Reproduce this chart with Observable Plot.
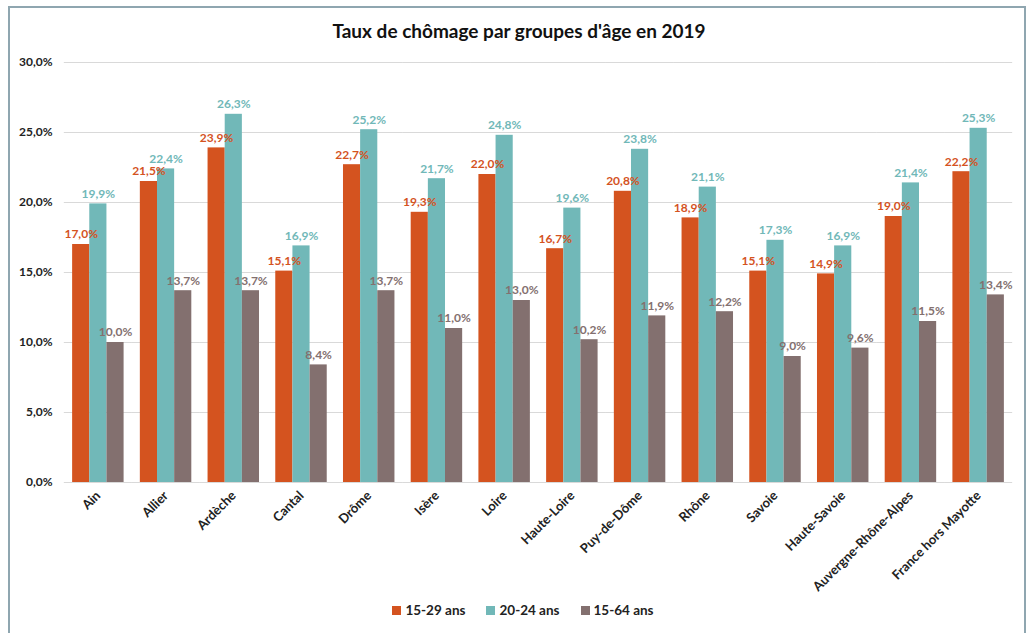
<!DOCTYPE html>
<html>
<head>
<meta charset="utf-8">
<script src="https://cdn.jsdelivr.net/npm/d3@7"></script>
<script src="https://cdn.jsdelivr.net/npm/@observablehq/plot@0.6"></script>
<style>
  html, body { margin: 0; padding: 0; background: #fff; }
  body { width: 1030px; height: 633px; position: relative; overflow: hidden; font-family: Lato, "Open Sans", sans-serif; }
  #frame { position: absolute; left: 8px; top: 6px; width: 1014px; height: 700px; border: 2px solid #8fa6b0; box-sizing: content-box; }
  #title { position: absolute; top: 19px; left: 8px; width: 1022px; text-align: center; font-size: 19px; font-weight: 700; color: #111; }
  #chart { position: absolute; left: 0; top: 50px; }
  #legend { position: absolute; top: 602px; left: 8px; width: 1030px; display: flex; justify-content: center; gap: 21px; font-size: 13.5px; font-weight: 700; color: #222; }
  #legend span.item { display: flex; align-items: center; gap: 4px; }
  #legend span.sw { width: 9px; height: 9px; display: inline-block; }
  #chart g[aria-label="y-axis tick label"], #chart g[aria-label="fx-axis tick label"] { font-weight: 700; }
  #chart g[aria-label="fx-axis tick label"] { font-size: 13px; }
  #chart g[aria-label="y-axis tick label"] { font-size: 12px; }
</style>
</head>
<body>
<div id="frame"></div>
<div id="title">Taux de chômage par groupes d'âge en 2019</div>
<div id="chart"></div>
<div id="legend"></div>
<script>
const categories = ["Ain","Allier","Ardèche","Cantal","Drôme","Isère","Loire","Haute-Loire","Puy-de-Dôme","Rhône","Savoie","Haute-Savoie","Auvergne-Rhône-Alpes","France hors Mayotte"];
const seriesNames = ["15-29 ans","20-24 ans","15-64 ans"];
const s15_29 = [17.0,21.5,23.9,15.1,22.7,19.3,22.0,16.7,20.8,18.9,15.1,14.9,19.0,22.2];
const s20_24 = [19.9,22.4,26.3,16.9,25.2,21.7,24.8,19.6,23.8,21.1,17.3,16.9,21.4,25.3];
const s15_64 = [10.0,13.7,13.7,8.4,13.7,11.0,13.0,10.2,11.9,12.2,9.0,9.6,11.5,13.4];
const yTicks = [0,5,10,15,20,25,30];
const colors = ["#D4531F","#71B8B8","#83706F"];

const seriesValues = [s15_29, s20_24, s15_64];
const data = categories.flatMap((c, i) => seriesNames.map((s, j) => ({cat: c, series: s, value: seriesValues[j][i]})));
const fmt = v => v.toFixed(1).replace(".", ",") + "%";

const chart = Plot.plot({
  width: 1030,
  height: 545,
  marginTop: 12,
  marginBottom: 113,
  marginLeft: 64,
  marginRight: 18,
  style: {fontFamily: "Lato, 'Open Sans', sans-serif", fontSize: "12px", color: "#222", background: "transparent"},
  fx: {domain: categories, paddingInner: 0.24, paddingOuter: 0.12, round: false, label: null, tickRotate: -45, tickSize: 0, tickPadding: 11},
  x: {domain: seriesNames, padding: 0, round: false, axis: null},
  y: {domain: [0, 30], ticks: yTicks, tickFormat: fmt, tickSize: 0, tickPadding: 20, label: null},
  color: {domain: seriesNames, range: colors},
  marks: [
    Plot.ruleY(yTicks, {stroke: "#d9d9d9", strokeWidth: 1, insetLeft: -8.3, insetRight: -8.3}),
    Plot.barY(data, {fx: "cat", x: "series", y: "value", fill: "series", inset: 0}),
    Plot.text(data, {fx: "cat", x: "series", y: "value", text: d => fmt(d.value), fill: "series", dy: -10, fontWeight: "bold", fontSize: 12})
  ]
});
document.getElementById("chart").appendChild(chart);

const legend = document.getElementById("legend");
seriesNames.forEach((s, i) => {
  const item = document.createElement("span");
  item.className = "item";
  const sw = document.createElement("span");
  sw.className = "sw";
  sw.style.background = colors[i];
  item.appendChild(sw);
  item.appendChild(document.createTextNode(s));
  legend.appendChild(item);
});
</script>
</body>
</html>
